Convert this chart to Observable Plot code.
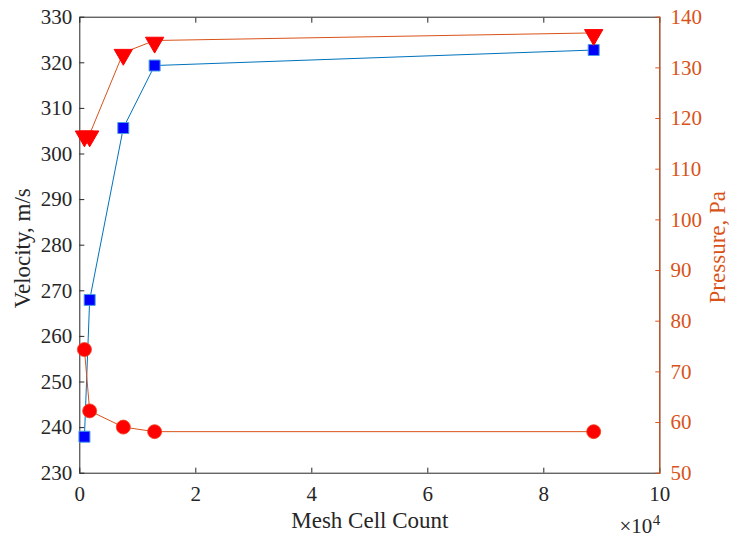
<!DOCTYPE html>
<html>
<head>
<meta charset="utf-8">
<script src="https://cdn.jsdelivr.net/npm/d3@7"></script>
<script src="https://cdn.jsdelivr.net/npm/@observablehq/plot@0.6"></script>
<style>
  html, body { margin: 0; padding: 0; background: #fff; }
  #wrap { position: relative; width: 732px; height: 537px; }
  #wrap svg { position: absolute; left: 0; top: 0; background: transparent; overflow: visible; }
  #wrap svg, #wrap svg text, #wrap svg g { font-family: "Liberation Serif", "Times New Roman", serif !important; }
</style>
</head>
<body>
<div id="wrap"></div>
<script>
// ---- data ----
const cellCounts = [800, 1700, 7500, 12900, 88600];
const velocity = [238.0, 268.0, 305.7, 319.4, 322.8];
const pressureHigh = [116.9, 116.9, 133.0, 135.4, 136.9];
const pressureLow = [74.4, 62.3, 59.1, 58.2, 58.2];
const xTicks = [0, 20000, 40000, 60000, 80000, 100000];
const leftTicks = [230, 240, 250, 260, 270, 280, 290, 300, 310, 320, 330];
const rightTicks = [50, 60, 70, 80, 90, 100, 110, 120, 130, 140];
const xLabel = "Mesh Cell Count";
const leftLabel = "Velocity, m/s";
const rightLabel = "Pressure, Pa";

const velRows = cellCounts.map((c, i) => ({c, v: velocity[i]}));
const hiRows = cellCounts.map((c, i) => ({c, p: pressureHigh[i]}));
const loRows = cellCounts.map((c, i) => ({c, p: pressureLow[i]}));

const FONT = "Liberation Serif, Times New Roman, serif";
const DARK = "#262626";
const ORANGE = "#D95319";
const W = 732, H = 537;
const M = {top: 16.7, right: 72.7, bottom: 64.3, left: 79.3};

const left = Plot.plot({
  width: W, height: H,
  marginTop: M.top, marginRight: M.right, marginBottom: M.bottom, marginLeft: M.left,
  style: {fontFamily: FONT, fontSize: "21px", color: DARK, background: "transparent"},
  x: {type: "linear", domain: [0, 100000]},
  y: {domain: [230, 330]},
  marks: [
    Plot.frame({stroke: DARK, strokeWidth: 1}),
    Plot.axisX({anchor: "bottom", ticks: xTicks, tickSize: -5, tickPadding: 17.4,
      tickFormat: d => String(d / 10000), label: null, stroke: DARK, fill: DARK, fontFamily: FONT}),
    Plot.axisX({anchor: "top", ticks: xTicks, tickSize: -5, tickFormat: () => "", label: null, stroke: DARK}),
    Plot.axisY({anchor: "left", ticks: leftTicks, tickSize: -5, tickPadding: 12.6,
      tickFormat: d => String(d), label: null, stroke: DARK, fill: DARK, fontFamily: FONT}),
    Plot.text([xLabel], {text: d => d, frameAnchor: "bottom", dy: 47, lineAnchor: "middle",
      fontSize: 23, fill: DARK, fontFamily: FONT}),
    Plot.text([leftLabel], {text: d => d, frameAnchor: "left", dx: -57, dy: 3, rotate: -90,
      textAnchor: "middle", lineAnchor: "middle", fontSize: 23, fill: DARK, fontFamily: FONT}),
    Plot.text(["\u00d710"], {text: d => d, frameAnchor: "bottom-right", dx: -7.5, dy: 59.5,
      textAnchor: "end", lineAnchor: "bottom", fontSize: 21, fill: DARK, fontFamily: FONT}),
    Plot.text(["4"], {text: d => d, frameAnchor: "bottom-right", dx: -7, dy: 52,
      textAnchor: "start", lineAnchor: "bottom", fontSize: 15, fill: DARK, fontFamily: FONT}),
    Plot.line(velRows, {x: "c", y: "v", stroke: "#0072BD", strokeWidth: 1}),
    Plot.dot(velRows, {x: "c", y: "v", symbol: "square", r: 6.2, fill: "#0000FF",
      stroke: "#4a9ee0", strokeWidth: 1})
  ]
});

const right = Plot.plot({
  width: W, height: H,
  marginTop: M.top, marginRight: M.right, marginBottom: M.bottom, marginLeft: M.left,
  style: {fontFamily: FONT, fontSize: "21px", color: ORANGE, background: "transparent"},
  x: {type: "linear", domain: [0, 100000], axis: null},
  y: {domain: [50, 140], axis: null},
  marks: [
    Plot.frame({anchor: "right", stroke: ORANGE, strokeWidth: 1}),
    Plot.axisY({anchor: "right", ticks: rightTicks, tickSize: -5, tickPadding: 15.7,
      tickFormat: d => String(d), label: null, stroke: ORANGE, fill: ORANGE, fontFamily: FONT}),
    Plot.text([rightLabel], {text: d => d, frameAnchor: "right", dx: 58, dy: 2, rotate: -90,
      textAnchor: "middle", lineAnchor: "middle", fontSize: 23, fill: ORANGE, fontFamily: FONT}),
    Plot.line(hiRows, {x: "c", y: "p", stroke: ORANGE, strokeWidth: 1}),
    Plot.line(loRows, {x: "c", y: "p", stroke: ORANGE, strokeWidth: 1}),
    Plot.dot(hiRows, {x: "c", y: "p", symbol: "triangle", rotate: 180, r: 6.8, dy: 2,
      fill: "#FF0000", stroke: "#FF0000", strokeWidth: 1}),
    Plot.dot(loRows, {x: "c", y: "p", symbol: "circle", r: 7, fill: "#FF0000",
      stroke: "#F04020", strokeWidth: 0.8})
  ]
});

const wrap = document.getElementById("wrap");
wrap.appendChild(left);
wrap.appendChild(right);
</script>
</body>
</html>
